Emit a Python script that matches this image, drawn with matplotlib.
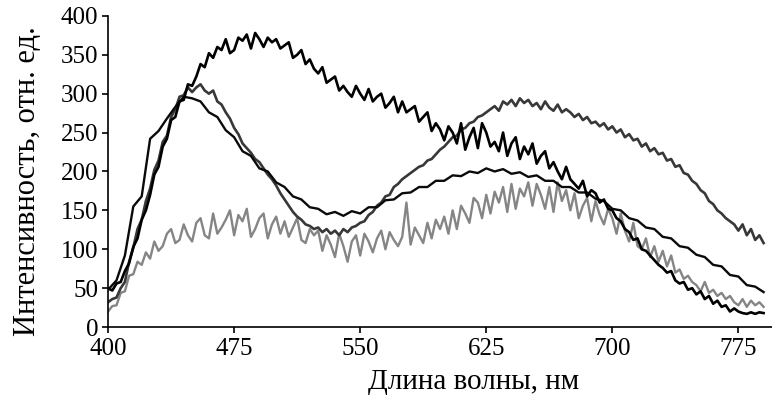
import matplotlib
matplotlib.use("Agg")
import matplotlib.pyplot as plt

# Wavelength grids (nm)
wavelength = [400 + 2.5 * i for i in range(157)]   # 400 ... 790, step 2.5
wavelength_b = list(range(400, 795, 5))            # 400 ... 790, step 5

# Thick black spectrum (maximum ~370 near 490 nm)
series_a = [50, 47, 56, 58, 72, 82, 103, 114, 138, 150,
            170, 196, 206, 232, 242, 266, 270, 290, 292, 312,
            310, 322, 338, 334, 352, 346, 360, 356, 370, 352,
            356, 372, 368, 376, 358, 378, 370, 360, 372, 366,
            370, 358, 362, 366, 346, 350, 356, 338, 344, 332,
            326, 334, 314, 318, 322, 304, 310, 302, 296, 310,
            300, 292, 306, 290, 296, 300, 282, 288, 296, 276,
            290, 276, 280, 284, 264, 270, 276, 252, 262, 254,
            240, 258, 250, 236, 262, 228, 244, 256, 230, 262,
            250, 232, 238, 226, 250, 220, 236, 244, 216, 232,
            222, 236, 210, 220, 226, 204, 212, 200, 190, 206,
            190, 184, 178, 188, 168, 176, 172, 160, 164, 152,
            150, 140, 136, 126, 122, 112, 114, 100, 98, 92,
            86, 80, 76, 70, 72, 60, 56, 58, 48, 50,
            42, 46, 36, 40, 30, 34, 26, 28, 20, 24,
            20, 18, 17, 19, 17, 19, 18]

# Thin black spectrum (peak ~295 at 450 nm, second band ~200 at 630 nm)
series_b = [48, 60, 92, 155, 168, 242, 252, 268, 283, 296, 294, 290, 276, 270, 253, 244, 226, 220, 204, 200,
            186, 180, 168, 164, 154, 152, 145, 148, 143, 149, 146, 154, 154, 163, 164, 172, 173, 180, 180, 188,
            188, 195, 194, 200, 198, 204, 200, 203, 197, 199, 193, 195, 188, 188, 180, 180, 173, 173, 165, 162,
            152, 150, 140, 137, 128, 126, 116, 114, 104, 102, 93, 90, 80, 78, 67, 65, 54, 52, 45]

# Dark grey spectrum (peaks ~310 at 455 nm and ~290 at 650 nm)
series_c = [32, 36, 38, 50, 58, 84, 102, 126, 138, 162,
            178, 202, 214, 238, 246, 270, 280, 296, 298, 308,
            302, 308, 312, 304, 300, 304, 290, 286, 276, 268,
            256, 248, 236, 230, 224, 216, 212, 204, 196, 190,
            182, 172, 164, 156, 148, 142, 138, 132, 130, 126,
            128, 122, 126, 120, 124, 118, 126, 122, 128, 130,
            134, 136, 144, 148, 156, 160, 168, 170, 180, 184,
            190, 194, 198, 202, 206, 208, 214, 216, 222, 228,
            232, 238, 244, 246, 254, 256, 262, 264, 270, 272,
            276, 280, 284, 278, 290, 286, 292, 284, 294, 288,
            292, 284, 288, 280, 290, 282, 278, 286, 276, 280,
            276, 270, 274, 266, 270, 262, 264, 258, 262, 254,
            258, 250, 254, 244, 248, 240, 242, 232, 236, 226,
            230, 222, 224, 214, 216, 206, 208, 198, 196, 188,
            184, 176, 172, 162, 158, 150, 146, 140, 136, 132,
            124, 132, 118, 126, 112, 118, 108]

# Light grey spectrum (noisy, ~130 plateau and ~165 band near 650 nm)
series_d = [20, 27, 28, 44, 46, 66, 68, 84, 80, 96,
            88, 110, 98, 104, 120, 126, 108, 112, 132, 118,
            110, 134, 140, 118, 114, 146, 120, 128, 138, 150,
            118, 144, 136, 152, 116, 126, 140, 146, 114, 132,
            142, 120, 136, 116, 128, 140, 112, 108, 126, 118,
            124, 98, 118, 106, 90, 120, 104, 84, 110, 118,
            92, 120, 110, 96, 114, 124, 100, 122, 112, 104,
            116, 160, 106, 128, 118, 108, 134, 114, 138, 126,
            142, 120, 150, 126, 156, 146, 134, 166, 160, 140,
            170, 146, 174, 160, 180, 148, 184, 152, 178, 168,
            186, 156, 184, 170, 152, 180, 148, 186, 162, 176,
            150, 172, 140, 156, 166, 136, 162, 144, 132, 152,
            140, 120, 146, 124, 110, 134, 104, 100, 114, 90,
            104, 84, 98, 78, 92, 70, 74, 62, 66, 58,
            54, 46, 58, 44, 48, 40, 44, 36, 40, 32,
            28, 36, 26, 34, 28, 32, 26]

xticks = [400, 475, 550, 625, 700, 775]
yticks = [0, 50, 100, 150, 200, 250, 300, 350, 400]

plt.rcParams['font.family'] = ['Liberation Serif', 'DejaVu Serif']

fig = plt.figure(figsize=(7.72, 3.96), dpi=100)
ax = fig.add_axes([0.14, 0.174, 0.86, 0.786])

ax.plot(wavelength, series_d, color='#858585', lw=1.7)
ax.plot(wavelength, series_c, color='#383838', lw=1.9)
ax.plot(wavelength_b, series_b, color='#0a0a0a', lw=1.7)
ax.plot(wavelength, series_a, color='#000000', lw=1.9)

ax.set_xlim(400, 795)
ax.set_ylim(0, 400)
ax.set_xticks(xticks)
ax.set_yticks(yticks)
for s in ['top', 'right']:
    ax.spines[s].set_visible(False)
for s in ['left', 'bottom']:
    ax.spines[s].set_linewidth(1.2)
ax.tick_params(direction='out', length=4, width=1.2, labelsize=18, pad=3)
ax.tick_params(axis='x', pad=4)
ax.set_xlabel('Длина волны, нм', fontsize=21)
ax.set_ylabel('Интенсивность, отн. ед.', fontsize=22)
ax.xaxis.set_label_coords(0.551, -0.135)
ax.yaxis.set_label_coords(-0.10, 0.47)

fig.savefig('out.png', dpi=100)
